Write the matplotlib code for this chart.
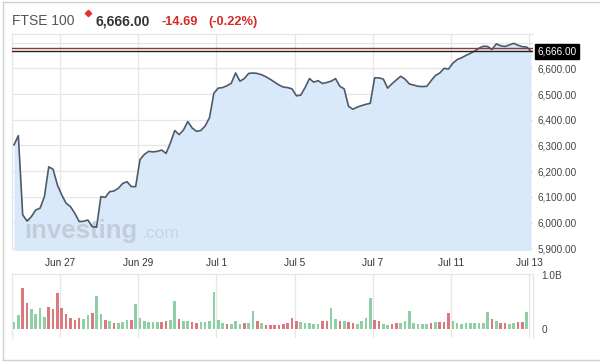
import matplotlib
matplotlib.use("Agg")
import matplotlib.pyplot as plt
import matplotlib.transforms as mtransforms
from matplotlib.lines import Line2D
import numpy as np

plt.rcParams['font.family'] = ['Liberation Sans', 'DejaVu Sans']

# ---------------- data ----------------
price = [6302, 6338, 6030, 6006, 6023, 6049, 6056, 6101, 6217, 6207,
         6146, 6107, 6075, 6062, 6036, 6004, 6005, 6010, 5984, 5982,
         6101, 6098, 6120, 6123, 6133, 6152, 6159, 6140, 6140, 6245,
         6265, 6277, 6275, 6277, 6282, 6269, 6310, 6358, 6342, 6360,
         6393, 6368, 6355, 6358, 6376, 6408, 6503, 6523, 6525, 6532,
         6542, 6582, 6550, 6560, 6580, 6582, 6580, 6575, 6567, 6557,
         6546, 6535, 6527, 6525, 6520, 6493, 6496, 6525, 6560, 6546,
         6552, 6541, 6545, 6550, 6560, 6530, 6520, 6452, 6441, 6449,
         6455, 6460, 6464, 6563, 6563, 6558, 6523, 6540, 6555, 6569,
         6558, 6539, 6535, 6530, 6529, 6530, 6552, 6572, 6582, 6600,
         6597, 6620, 6634, 6641, 6650, 6658, 6667, 6678, 6686, 6685,
         6673, 6695, 6688, 6685, 6691, 6697, 6690, 6684, 6683, 6666]

volume_b = [0.12, 0.25, 0.75, 0.48, 0.37, 0.27, 0.39, 0.22, 0.41, 0.37,
            0.67, 0.39, 0.27, 0.20, 0.17, 0.20, 0.18, 0.25, 0.30, 0.61,
            0.27, 0.16, 0.14, 0.10, 0.11, 0.13, 0.17, 0.17, 0.46, 0.20,
            0.14, 0.12, 0.12, 0.12, 0.13, 0.15, 0.17, 0.52, 0.19, 0.14,
            0.14, 0.12, 0.11, 0.12, 0.13, 0.14, 0.69, 0.17, 0.10, 0.09,
            0.09, 0.14, 0.09, 0.11, 0.11, 0.33, 0.14, 0.10, 0.075, 0.07,
            0.07, 0.07, 0.09, 0.10, 0.20, 0.15, 0.13, 0.10, 0.10, 0.09,
            0.09, 0.14, 0.14, 0.38, 0.19, 0.14, 0.14, 0.12, 0.11, 0.09,
            0.15, 0.20, 0.58, 0.17, 0.14, 0.09, 0.06, 0.09, 0.10, 0.10,
            0.14, 0.33, 0.11, 0.09, 0.09, 0.09, 0.11, 0.12, 0.12, 0.12,
            0.29, 0.14, 0.11, 0.09, 0.11, 0.11, 0.11, 0.11, 0.11, 0.31,
            0.19, 0.14, 0.11, 0.10, 0.09, 0.11, 0.12, 0.12, 0.32]

volume_dir = list("ggrrggggrr" "rrrrrrggrg" "grgrgggrgg" "ggggrrggrg"
                  "grrggggggr" "gggrggrgrr" "rrrrrrgggg" "grrggrgrrg"
                  "gggrrggrrg" "ggggggrgrr" "rggggggggg" "rgrrggrrg")

tick_labels = ["Jun 27", "Jun 29", "Jul 1", "Jul 5", "Jul 7", "Jul 11", "Jul 13"]
tick_pos = [10.6, 28.6, 46.6, 64.6, 82.6, 100.6, 118.6]

price_ticks = [5900, 6000, 6100, 6200, 6300, 6400, 6500, 6600]
last_price = 6666.00
prev_close = 6680.69

# ---------------- figure ----------------
W, H = 600, 364
fig = plt.figure(figsize=(6, 3.64), dpi=100)
fig.patch.set_facecolor('white')

def fx(px):
    return px / W

def fy(py):
    return 1 - py / H

grid_c = '#e6e6e6'
text_c = '#444444'
red_c = '#d42a2a'

# price axes
ax = fig.add_axes([fx(12), fy(249.5), fx(533) - fx(12), fy(34) - fy(249.5)])
x = np.arange(len(price))
ax.set_xlim(-0.46, 119.45)
ax.set_ylim(5895.3, 6733.5)
ax.fill_between(x, price, 5800, color='#d9e9fa', lw=0, zorder=1)
ax.plot(x, price, color='#4f5a69', lw=1.2, zorder=3)
for yv in price_ticks + [6700]:
    ax.axhline(yv, color=grid_c, lw=0.9, zorder=0.5)
for xv in tick_pos:
    ax.axvline(xv, color=grid_c, lw=0.9, zorder=0.5)
ax.axhline(prev_close, color='#8b3a3a', lw=1.0, zorder=4)
ax.axhline(last_price, color='#222222', lw=1.0, zorder=4)

ax.set_yticks(price_ticks)
ax.set_yticklabels([f"{v:,.2f}" for v in price_ticks])
ax.yaxis.tick_right()
ax.tick_params(axis='y', length=0, pad=3, labelsize=7.2, labelcolor=text_c)
ax.set_xticks(tick_pos)
ax.set_xticklabels(tick_labels)
ax.tick_params(axis='x', length=0, pad=6.2, labelsize=7.2, labelcolor='#333333')
for s in ['right', 'bottom']:
    ax.spines[s].set_visible(False)
for s in ['left', 'top']:
    ax.spines[s].set_color(grid_c)
    ax.spines[s].set_linewidth(0.9)
ax.set_facecolor('white')

trans = mtransforms.blended_transform_factory(ax.transAxes, ax.transData)
ax.text(1.0 + 4.5 / 521, last_price, f"{last_price:,.2f}", transform=trans,
        color='white', fontsize=7.2, va='center', ha='left', clip_on=False,
        bbox=dict(boxstyle='square,pad=0.25', fc='black', ec='black'), zorder=6)

# watermark
ax.text(fx(24), fy(238), "investing", transform=fig.transFigure, fontsize=18.5,
        fontweight='bold', color='#c3ccd8', va='baseline', ha='left', zorder=2)
ax.text(fx(141), fy(238), ".com", transform=fig.transFigure, fontsize=12.5,
        color='#ccd3dd', va='baseline', ha='left', zorder=2)

# volume axes
axv = fig.add_axes([fx(12), fy(338), fx(533) - fx(12), fy(274) - fy(338)])
xv = np.arange(len(volume_b))
colors = ['#8ecfa6' if d == 'g' else '#da7a7e' for d in volume_dir]
axv.bar(xv, volume_b, width=0.6, color=colors, zorder=2)
axv.set_xlim(-0.46, 119.45)
axv.set_ylim(-0.173, 1.0186)
for xvv in tick_pos:
    axv.axvline(xvv, color=grid_c, lw=0.9, zorder=0.5)
axv.set_xticks([])
axv.set_yticks([0, 1.0])
axv.set_yticklabels(["0", "1.0B"])
axv.yaxis.tick_right()
axv.tick_params(axis='y', length=0, pad=6, labelsize=7.2, labelcolor=text_c)
axv.spines['bottom'].set_visible(False)
for s in ['left', 'top', 'right']:
    axv.spines[s].set_color(grid_c)
    axv.spines[s].set_linewidth(0.9)

# title
yb = fy(25)
fig.text(fx(12), yb, "FTSE 100", fontsize=10, color='#555555', va='baseline')
fig.add_artist(Line2D([fx(88)], [fy(13)], marker='D', ms=3.2, color='#e03030',
                      transform=fig.transFigure))
fig.text(fx(95), yb, "6,666.00", fontsize=10, fontweight='bold', color='#333333', va='baseline')
fig.text(fx(162), yb, "-14.69", fontsize=9.2, fontweight='bold', color=red_c, va='baseline')
fig.text(fx(208), yb, "(-0.22%)", fontsize=9.2, fontweight='bold', color=red_c, va='baseline')

# outer frame
frame_c = '#d0d0d0'
fig.add_artist(Line2D([fx(2.5), fx(2.5)], [fy(1.5), fy(360)], color=frame_c, lw=1, transform=fig.transFigure))
fig.add_artist(Line2D([fx(2.5), 1], [fy(1.5), fy(1.5)], color=frame_c, lw=1, transform=fig.transFigure))
fig.add_artist(Line2D([fx(2.5), 1], [fy(360), fy(360)], color=frame_c, lw=1, transform=fig.transFigure))

fig.savefig("out.png", dpi=100)
